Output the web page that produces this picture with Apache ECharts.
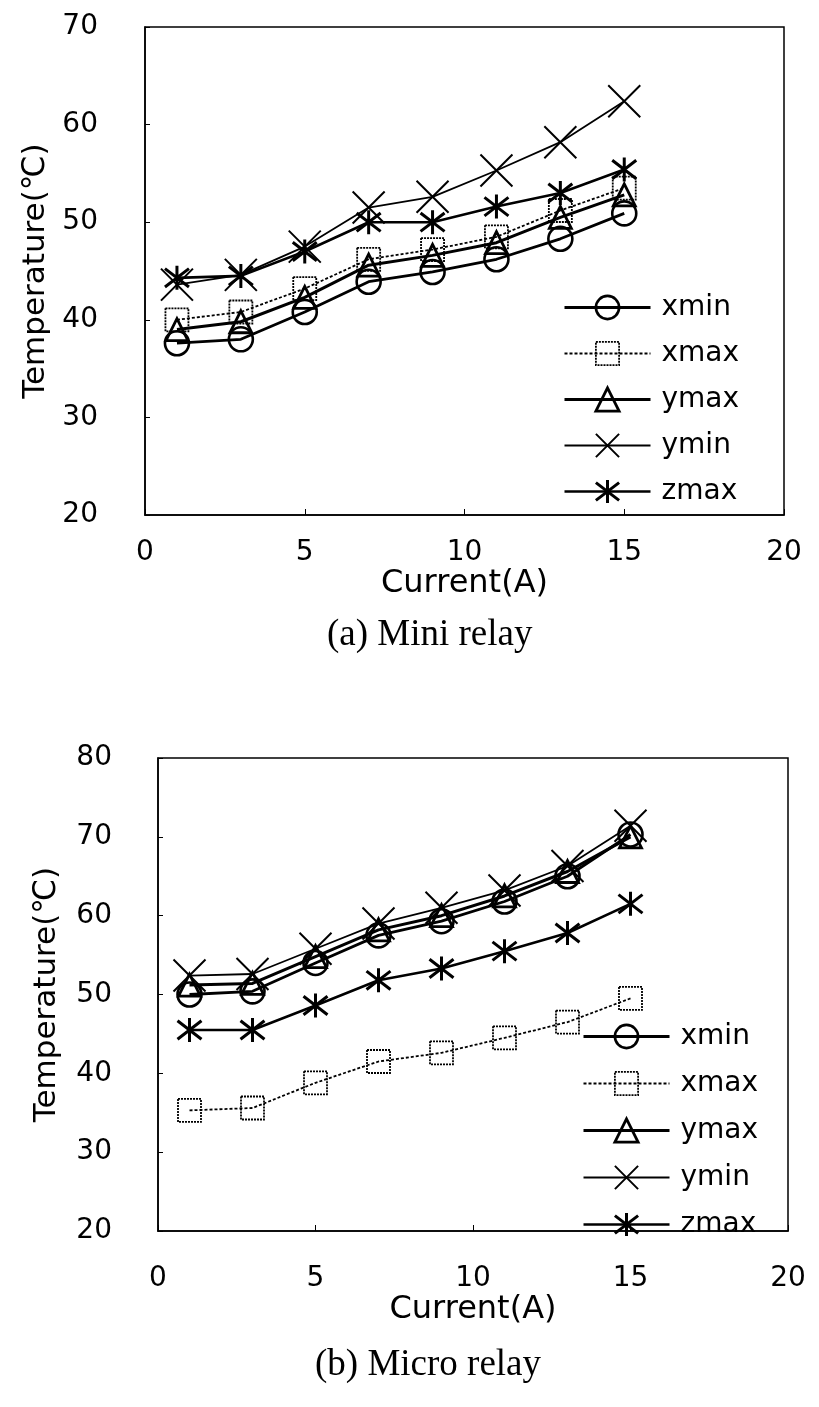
<!DOCTYPE html>
<html>
<head>
<meta charset="utf-8">
<script src="https://cdn.jsdelivr.net/npm/echarts@6/dist/echarts.min.js"></script>
<style>
html,body{margin:0;padding:0;background:#fff;}
#main{width:819px;height:1407px;}
</style>
</head>
<body>
<div id="main"></div>
<script>
// ---- data ----
const currents = [1, 3, 5, 7, 9, 11, 13, 15];
const seriesNames = ['xmin', 'xmax', 'ymax', 'ymin', 'zmax'];
const xTicks = [0, 5, 10, 15, 20];

// (a) Mini relay
const miniXmin = [37.6, 38.0, 40.8, 43.9, 44.9, 46.2, 48.3, 50.9];
const miniXmax = [40.0, 40.8, 43.2, 46.2, 47.2, 48.5, 51.2, 53.5];
const miniYmax = [39.0, 39.8, 42.3, 45.6, 46.6, 47.9, 50.5, 52.8];
const miniYmin = [43.6, 44.6, 47.5, 51.5, 52.6, 55.3, 58.2, 62.4];
const miniZmax = [44.3, 44.5, 47.0, 50.0, 50.0, 51.6, 53.0, 55.4];

// (b) Micro relay
const microXmin = [50.0, 50.4, 54.0, 57.5, 59.3, 61.8, 65.0, 70.3];
const microXmax = [35.3, 35.6, 38.8, 41.5, 42.6, 44.5, 46.5, 49.5];
const microYmax = [51.2, 51.4, 54.8, 58.2, 60.0, 62.5, 65.6, 70.0];
const microYmin = [52.4, 52.6, 55.8, 59.0, 61.0, 63.2, 66.3, 71.4];
const microZmax = [45.5, 45.5, 48.6, 51.8, 53.3, 55.5, 57.8, 61.5];

const miniData = [miniXmin, miniXmax, miniYmax, miniYmin, miniZmax];
const microData = [microXmin, microXmax, microYmax, microYmin, microZmax];

// ---- styles ----
const SANS = 'DejaVu Sans';
const SERIF = 'Liberation Serif';
const styleOf = {
  xmin: {symbol: 'circle', size: 24, lw: 2.8, type: 'solid', bw: 2.6, bt: 'solid'},
  xmax: {symbol: 'rect', size: 23, lw: 1.8, type: [3, 2], bw: 1.8, bt: [2, 1]},
  ymax: {symbol: 'triangle', size: 22, lw: 3, type: 'solid', bw: 2.8, bt: 'solid'},
  ymin: {symbol: 'path://M0,0L10,10M10,0L0,10', size: 32, lw: 1.8, type: 'solid', bw: 2, bt: 'solid'},
  zmax: {symbol: 'path://M0,0L10,10M10,0L0,10M5,-1.5L5,11.5', size: 24, lw: 2.6, type: 'solid', bw: 3, bt: 'solid'}
};

function makeSeries(dataSets, axisIndex) {
  return seriesNames.map((name, i) => {
    const s = styleOf[name];
    return {
      type: 'line',
      name: name,
      xAxisIndex: axisIndex,
      yAxisIndex: axisIndex,
      data: currents.map((c, k) => [c, dataSets[i][k]]),
      symbol: s.symbol,
      symbolSize: s.size,
      showAllSymbol: true,
      lineStyle: {color: '#000', width: s.lw, type: s.type},
      itemStyle: {color: 'rgba(0,0,0,0)', borderColor: '#000', borderWidth: s.bw, borderType: s.bt},
      emphasis: {disabled: true},
      animation: false,
      z: 3
    };
  });
}

function makeXAxis(gridIndex, margin, gap) {
  return {
    type: 'value', gridIndex: gridIndex, min: 0, max: 20, interval: 5,
    name: 'Current(A)', nameLocation: 'middle', nameGap: gap,
    nameTextStyle: {fontFamily: SANS, fontSize: 32, color: '#000'},
    axisLine: {show: true, lineStyle: {color: '#000', width: 1.5}},
    axisTick: {show: true, inside: true, length: 6, lineStyle: {color: '#000', width: 1}},
    axisLabel: {fontFamily: SANS, fontSize: 28, color: '#000', margin: margin,
      formatter: v => (xTicks.indexOf(v) >= 0 ? String(v) : '')},
    splitLine: {show: false}
  };
}

function makeYAxis(gridIndex, min, max, gap, margin) {
  return {
    type: 'value', gridIndex: gridIndex, min: min, max: max, interval: 10,
    name: 'Temperature(℃)', nameLocation: 'middle', nameGap: gap, nameRotate: 90,
    nameTextStyle: {fontFamily: SANS, fontSize: 31, color: '#000'},
    axisLine: {show: true, lineStyle: {color: '#000', width: 1.5}},
    axisTick: {show: true, inside: true, length: 5, lineStyle: {color: '#000', width: 1}},
    axisLabel: {fontFamily: SANS, fontSize: 28, color: '#000', margin: margin},
    splitLine: {show: false}
  };
}

function makeLegend(left, top, gap) {
  return {
    data: seriesNames.map(name => {
      const s = styleOf[name];
      return {
        name: name,
        itemStyle: {color: 'rgba(0,0,0,0)', borderColor: '#000', borderWidth: s.bw, borderType: s.bt},
        lineStyle: {color: '#000', width: s.lw, type: s.type}
      };
    }),
    orient: 'vertical', left: left, top: top,
    itemWidth: 86, itemHeight: 29, itemGap: gap, selectedMode: false,
    textStyle: {fontFamily: SANS, fontSize: 28, color: '#000', lineHeight: 29, padding: [0, 0, 0, 6]},
    inactiveColor: '#000'
  };
}

const chart = echarts.init(document.getElementById('main'), null, {renderer: 'canvas'});
chart.setOption({
  backgroundColor: '#fff',
  animation: false,
  title: [
    {text: '(a) Mini relay', left: 322, top: 612,
      textStyle: {fontFamily: SERIF, fontSize: 37, fontWeight: 'normal', color: '#000'}},
    {text: '(b) Micro relay', left: 310, top: 1342,
      textStyle: {fontFamily: SERIF, fontSize: 37, fontWeight: 'normal', color: '#000'}}
  ],
  grid: [
    {left: 145, top: 27, width: 639, height: 488, show: true, borderColor: '#000', borderWidth: 1.5, backgroundColor: 'transparent'},
    {left: 158, top: 758, width: 630, height: 473, show: true, borderColor: '#000', borderWidth: 1.5, backgroundColor: 'transparent'}
  ],
  xAxis: [makeXAxis(0, 24, 47), makeXAxis(1, 34, 55)],
  yAxis: [makeYAxis(0, 20, 70, 88, 47), makeYAxis(1, 20, 80, 96, 46)],
  legend: [makeLegend(558, 288, 17), makeLegend(577, 1017, 18)],
  series: makeSeries(miniData, 0).concat(makeSeries(microData, 1))
});
</script>
</body>
</html>
